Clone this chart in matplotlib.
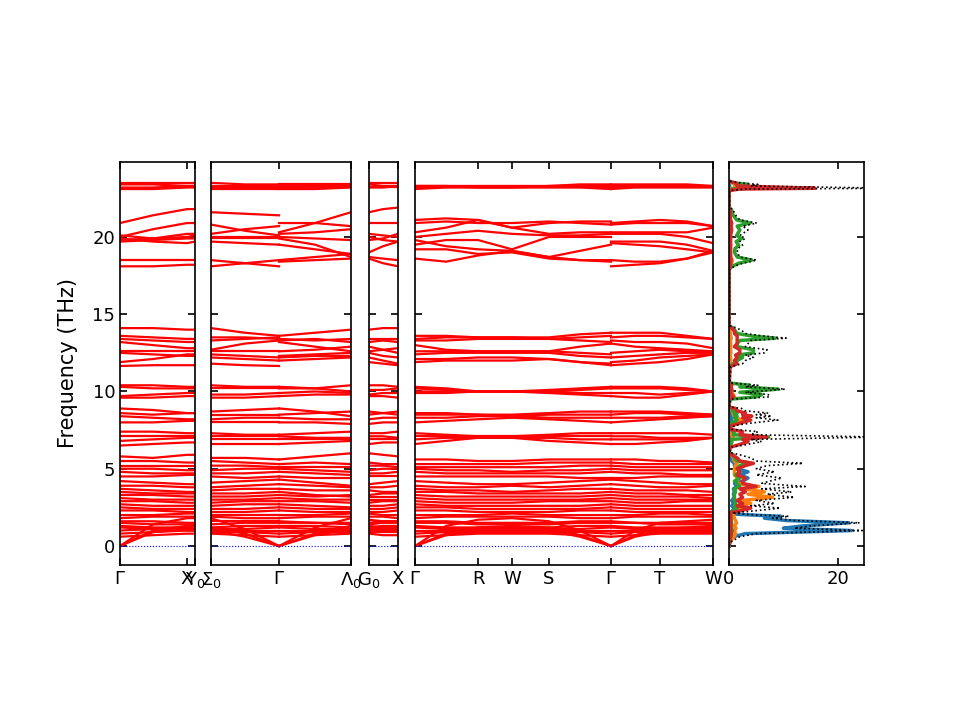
import numpy as np
import matplotlib
matplotlib.use("Agg")
import matplotlib.pyplot as plt

# k-path positions of the points each band is read at
p1_x = [0, 33, 67, 75]
p2a_x = [0, 34, 68]
p2b_x = [68, 104, 140]
p3_x = [0, 14, 29]
p4a_x = [0, 31, 63, 97, 134, 165, 196]
p4b_x = [196, 220, 245, 272, 298]

p1_ticks = [0, 67, 75]
p1_labels = [r"$\Gamma$", "X", r"$\mathrm{Y}_0$"]
p2_ticks = [0, 68, 140]
p2_labels = [r"$\Sigma_0$", r"$\Gamma$", r"$\Lambda_0$"]
p3_ticks = [0, 29]
p3_labels = [r"$\mathrm{G}_0$", "X"]
p4_ticks = [0, 63, 97, 134, 196, 245, 298]
p4_labels = [r"$\Gamma$", "R", "W", "S", r"$\Gamma$", "T", "W"]

# each row: P1(4) | P2a(3) | P2b(3) | P3(3) | P4a(7) | P4b(5)
bands_acoustic = [
    [0, 0.9, 1.1, 1.1, 1.0, 0.6, 0, 0, 0.7, 1.1, 1.1, 1.1, 1.1, 0, 0.7, 1.0, 1.1, 1.0, 0.6, 0, 0, 0.6, 0.9, 1.0, 1.1],
    [0, 1.0, 1.3, 1.3, 1.2, 0.8, 0, 0, 0.8, 1.3, 1.3, 1.2, 1.2, 0, 0.8, 1.2, 1.3, 1.2, 0.7, 0, 0, 0.7, 1.1, 1.2, 1.3],
    [0, 1.4, 1.8, 1.8, 1.8, 1.1, 0, 0, 1.2, 1.8, 1.7, 1.6, 1.6, 0, 1.3, 1.7, 1.8, 1.6, 1.0, 0, 0, 1.0, 1.5, 1.6, 1.7],
]
bands_low = [
    [2.0, 2.0, 2.1, 2.1, 2.0, 2.0, 2.0, 2.0, 2.0, 2.1, 2.1, 2.0, 2.0, 2.0, 2.0, 2.0, 2.1, 2.0, 2.0, 2.0, 2.0, 2.0, 2.1, 2.1, 2.0],
    [1.8, 1.9, 1.9, 1.9, 1.9, 1.8, 1.8, 1.8, 1.9, 1.9, 1.9, 1.9, 1.8, 1.8, 1.9, 1.9, 1.9, 1.9, 1.8, 1.8, 1.8, 1.9, 1.9, 1.9, 1.9],
    [1.6, 1.6, 1.5, 1.5, 1.6, 1.6, 1.6, 1.6, 1.5, 1.5, 1.5, 1.6, 1.6, 1.6, 1.6, 1.5, 1.5, 1.5, 1.6, 1.6, 1.6, 1.5, 1.5, 1.5, 1.5],
    [1.5, 1.4, 1.4, 1.4, 1.4, 1.5, 1.5, 1.5, 1.5, 1.4, 1.4, 1.5, 1.5, 1.5, 1.5, 1.4, 1.4, 1.4, 1.5, 1.5, 1.5, 1.5, 1.4, 1.4, 1.4],
    [1.3, 1.2, 1.2, 1.2, 1.2, 1.3, 1.3, 1.3, 1.3, 1.2, 1.2, 1.3, 1.3, 1.3, 1.2, 1.2, 1.2, 1.2, 1.3, 1.3, 1.3, 1.2, 1.2, 1.2, 1.2],
    [1.2, 1.1, 1.1, 1.1, 1.1, 1.1, 1.2, 1.2, 1.1, 1.1, 1.1, 1.1, 1.1, 1.2, 1.1, 1.1, 1.1, 1.1, 1.1, 1.2, 1.2, 1.1, 1.1, 1.1, 1.1],
    [1.0, 1.1, 1.0, 1.0, 1.0, 1.0, 1.0, 1.0, 1.0, 1.0, 1.0, 1.0, 1.0, 1.0, 1.0, 1.0, 1.0, 1.0, 1.0, 1.0, 1.0, 1.0, 1.0, 1.0, 1.0],
    [0.8, 0.9, 1.0, 1.0, 0.9, 0.9, 0.8, 0.8, 0.9, 0.9, 0.9, 0.9, 0.9, 0.8, 0.9, 0.9, 0.9, 0.9, 0.9, 0.8, 0.8, 0.9, 0.9, 0.9, 0.9],
    [0.6, 0.7, 0.8, 0.8, 0.8, 0.7, 0.6, 0.6, 0.7, 0.8, 0.8, 0.7, 0.7, 0.6, 0.7, 0.8, 0.8, 0.8, 0.7, 0.6, 0.6, 0.7, 0.8, 0.8, 0.8],
]
bands_3thz = [
    [4.2, 4.1, 4.0, 4.0, 4.1, 4.2, 4.3, 4.3, 4.1, 3.9, 4.0, 4.1, 4.2, 4.2, 4.1, 4.0, 4.0, 4.1, 4.2, 4.3, 4.3, 4.2, 4.1, 4.0, 4.0],
    [3.9, 3.9, 3.8, 3.8, 3.8, 3.9, 4.0, 4.0, 3.9, 3.8, 3.8, 3.8, 3.9, 3.9, 3.8, 3.8, 3.9, 3.8, 3.9, 4.0, 4.0, 3.9, 3.8, 3.8, 3.9],
    [3.7, 3.6, 3.5, 3.5, 3.6, 3.7, 3.7, 3.7, 3.6, 3.6, 3.6, 3.5, 3.5, 3.7, 3.6, 3.6, 3.5, 3.6, 3.7, 3.7, 3.7, 3.6, 3.6, 3.6, 3.5],
    [3.5, 3.4, 3.4, 3.4, 3.4, 3.4, 3.5, 3.5, 3.3, 3.2, 3.3, 3.4, 3.4, 3.5, 3.5, 3.4, 3.4, 3.4, 3.4, 3.5, 3.5, 3.4, 3.4, 3.3, 3.3],
    [3.3, 3.3, 3.2, 3.2, 3.2, 3.2, 3.3, 3.3, 3.2, 3.3, 3.2, 3.2, 3.2, 3.3, 3.2, 3.2, 3.2, 3.2, 3.2, 3.3, 3.3, 3.2, 3.2, 3.2, 3.1],
    [3.1, 3.0, 3.0, 3.0, 3.0, 3.0, 3.1, 3.1, 3.0, 3.0, 3.0, 3.0, 3.0, 3.1, 3.0, 3.0, 3.0, 3.0, 3.0, 3.1, 3.1, 3.0, 3.0, 3.0, 3.0],
    [2.9, 2.9, 2.8, 2.8, 2.8, 2.9, 2.9, 2.9, 2.9, 2.8, 2.8, 2.9, 2.9, 2.9, 2.8, 2.8, 2.8, 2.9, 2.9, 2.9, 2.9, 2.8, 2.8, 2.9, 2.9],
    [2.7, 2.6, 2.6, 2.6, 2.6, 2.7, 2.7, 2.7, 2.6, 2.5, 2.6, 2.6, 2.7, 2.7, 2.6, 2.6, 2.6, 2.6, 2.6, 2.7, 2.7, 2.6, 2.6, 2.6, 2.6],
    [2.5, 2.4, 2.4, 2.4, 2.4, 2.4, 2.5, 2.5, 2.4, 2.4, 2.4, 2.4, 2.5, 2.5, 2.5, 2.4, 2.4, 2.4, 2.4, 2.5, 2.5, 2.4, 2.4, 2.4, 2.4],
    [2.3, 2.3, 2.2, 2.2, 2.2, 2.2, 2.3, 2.3, 2.2, 2.2, 2.2, 2.2, 2.3, 2.3, 2.3, 2.2, 2.2, 2.2, 2.3, 2.3, 2.3, 2.2, 2.2, 2.2, 2.2],
]
bands_5thz = [
    [5.8, 5.7, 5.9, 5.9, 5.7, 5.7, 5.6, 5.6, 5.8, 6.0, 6.0, 5.9, 5.8, 5.6, 5.6, 5.5, 5.5, 5.6, 5.6, 5.6, 5.6, 5.6, 5.5, 5.5, 5.4],
    [5.5, 5.5, 5.4, 5.4, 5.5, 5.4, 5.3, 5.3, 5.4, 5.3, 5.4, 5.3, 5.3, 5.3, 5.3, 5.3, 5.3, 5.4, 5.4, 5.4, 5.4, 5.3, 5.3, 5.3, 5.3],
    [5.2, 5.2, 5.2, 5.2, 5.2, 5.2, 5.1, 5.1, 5.1, 5.1, 5.2, 5.2, 5.1, 5.1, 5.1, 5.1, 5.1, 5.1, 5.2, 5.2, 5.2, 5.1, 5.1, 5.1, 5.1],
    [5.0, 5.0, 4.9, 4.9, 4.9, 5.0, 5.0, 5.0, 4.9, 4.8, 4.9, 5.0, 5.0, 5.0, 4.9, 4.9, 4.8, 4.9, 4.9, 5.0, 5.0, 4.9, 4.9, 4.9, 4.9],
    [4.8, 4.7, 4.7, 4.7, 4.7, 4.7, 4.8, 4.8, 4.7, 4.6, 4.7, 4.7, 4.8, 4.8, 4.7, 4.7, 4.7, 4.7, 4.7, 4.8, 4.8, 4.7, 4.7, 4.6, 4.6],
    [4.5, 4.5, 4.6, 4.6, 4.5, 4.4, 4.5, 4.5, 4.4, 4.4, 4.5, 4.5, 4.5, 4.5, 4.5, 4.5, 4.5, 4.5, 4.4, 4.4, 4.4, 4.4, 4.5, 4.5, 4.5],
]
bands_7thz = [
    [7.4, 7.4, 7.3, 7.3, 7.3, 7.2, 7.2, 7.2, 7.3, 7.4, 7.3, 7.3, 7.4, 7.3, 7.2, 7.1, 7.1, 7.2, 7.3, 7.3, 7.3, 7.3, 7.3, 7.3, 7.2],
    [7.1, 7.1, 7.1, 7.1, 7.1, 7.1, 7.1, 7.1, 7.0, 7.0, 7.1, 7.1, 7.0, 7.1, 7.1, 7.1, 7.1, 7.1, 7.1, 7.1, 7.1, 7.1, 7.0, 7.0, 7.0],
    [6.8, 6.9, 7.0, 7.0, 6.9, 6.9, 6.9, 6.9, 6.9, 6.9, 6.9, 6.9, 6.9, 6.9, 7.0, 7.0, 7.0, 7.0, 6.9, 6.9, 6.9, 6.9, 6.9, 6.9, 7.0],
    [6.5, 6.6, 6.7, 6.7, 6.6, 6.6, 6.6, 6.6, 6.7, 6.8, 6.6, 6.7, 6.7, 6.6, 6.8, 7.0, 7.0, 6.8, 6.7, 6.6, 6.6, 6.6, 6.7, 6.8, 7.0],
]
bands_8thz = [
    [8.9, 8.8, 8.6, 8.6, 8.7, 8.8, 8.9, 8.9, 8.7, 8.4, 8.5, 8.6, 8.7, 8.6, 8.6, 8.5, 8.5, 8.6, 8.7, 8.7, 8.7, 8.7, 8.7, 8.6, 8.5],
    [8.6, 8.5, 8.6, 8.6, 8.5, 8.5, 8.5, 8.5, 8.6, 8.7, 8.7, 8.6, 8.5, 8.5, 8.5, 8.5, 8.4, 8.5, 8.5, 8.5, 8.5, 8.6, 8.6, 8.5, 8.5],
    [8.4, 8.3, 8.2, 8.2, 8.2, 8.3, 8.3, 8.3, 8.2, 8.2, 8.2, 8.3, 8.3, 8.3, 8.3, 8.4, 8.4, 8.3, 8.3, 8.3, 8.3, 8.3, 8.3, 8.4, 8.4],
    [8.0, 8.0, 8.1, 8.1, 8.0, 8.0, 8.0, 8.0, 8.0, 7.9, 7.9, 8.0, 8.0, 8.0, 8.1, 8.2, 8.3, 8.2, 8.1, 8.0, 8.0, 8.1, 8.2, 8.3, 8.4],
]
bands_10thz = [
    [10.4, 10.4, 10.3, 10.3, 10.4, 10.3, 10.3, 10.3, 10.2, 10.4, 10.4, 10.4, 10.3, 10.3, 10.2, 10.0, 10.0, 10.1, 10.2, 10.3, 10.3, 10.3, 10.3, 10.2, 10.0],
    [10.3, 10.2, 10.2, 10.2, 10.2, 10.2, 10.2, 10.2, 10.2, 10.0, 10.1, 10.1, 10.2, 10.2, 10.1, 10.0, 10.0, 10.0, 10.1, 10.2, 10.2, 10.2, 10.2, 10.1, 10.0],
    [9.7, 9.8, 9.9, 9.9, 9.8, 9.8, 9.9, 9.9, 10.0, 9.9, 9.8, 9.9, 9.9, 10.0, 10.0, 10.0, 10.0, 10.0, 9.9, 9.9, 9.9, 9.9, 9.8, 9.9, 10.0],
    [9.6, 9.6, 9.7, 9.7, 9.6, 9.6, 9.7, 9.7, 9.8, 9.8, 9.7, 9.7, 9.6, 9.9, 9.9, 10.0, 10.0, 9.9, 9.8, 9.7, 9.7, 9.6, 9.6, 9.8, 10.0],
]
bands_13thz = [
    [14.1, 14.1, 14.0, 14.0, 14.1, 13.8, 13.6, 13.6, 13.8, 14.0, 14.0, 14.1, 14.1, 13.6, 13.6, 13.5, 13.5, 13.5, 13.7, 13.8, 13.8, 13.8, 13.8, 13.6, 13.4],
    [13.6, 13.5, 13.4, 13.4, 13.5, 13.5, 13.4, 13.4, 13.3, 13.4, 13.4, 13.4, 13.4, 13.4, 13.5, 13.5, 13.5, 13.4, 13.5, 13.6, 13.5, 13.6, 13.6, 13.5, 13.4],
    [13.4, 13.3, 13.2, 13.2, 13.3, 13.4, 13.5, 13.3, 13.4, 13.2, 13.2, 13.3, 13.2, 13.3, 13.3, 13.4, 13.4, 13.4, 13.3, 13.2, 13.3, 13.2, 13.2, 13.1, 12.8],
    [13.2, 13.0, 12.8, 12.8, 12.7, 13.1, 13.3, 13.2, 12.9, 12.6, 12.6, 12.7, 12.8, 13.0, 12.7, 12.6, 12.6, 12.6, 12.9, 13.1, 13.1, 12.9, 12.8, 12.7, 12.6],
    [12.6, 12.6, 12.6, 12.6, 12.6, 12.6, 12.6, 12.6, 12.7, 12.9, 12.9, 12.7, 12.5, 12.6, 12.6, 12.6, 12.6, 12.6, 12.5, 12.4, 12.5, 12.6, 12.7, 12.6, 12.6],
    [12.5, 12.4, 12.3, 12.3, 12.4, 12.3, 12.2, 12.3, 12.4, 12.5, 12.5, 12.3, 12.2, 12.4, 12.5, 12.5, 12.5, 12.5, 12.3, 12.2, 12.2, 12.3, 12.4, 12.5, 12.5],
    [11.9, 12.1, 12.4, 12.4, 12.2, 12.1, 12.0, 12.2, 12.3, 12.3, 12.2, 12.0, 11.8, 12.1, 12.1, 12.2, 12.2, 12.1, 11.9, 11.8, 11.9, 12.0, 12.2, 12.3, 12.4],
    [11.65, 11.7, 11.7, 11.7, 11.8, 11.7, 11.65, 12.0, 12.1, 12.2, 11.9, 11.8, 11.7, 11.9, 12.0, 12.0, 12.0, 12.1, 11.9, 11.7, 11.7, 11.8, 11.9, 12.1, 12.4],
]
bands_20thz = [
    [20.9, 21.4, 21.8, 21.8, 21.6, 21.5, 21.4, 20.9, 20.9, 20.7, 21.6, 21.8, 21.9, 21.1, 21.2, 21.1, 20.6, 20.9, 21.0, 21.0, 20.9, 21.0, 21.1, 21.0, 20.7],
    [20.0, 20.5, 20.9, 20.9, 20.8, 20.4, 20.1, 20.3, 20.9, 21.6, 20.9, 20.9, 20.9, 20.9, 21.0, 20.9, 20.9, 21.0, 20.9, 20.8, 20.8, 20.9, 20.9, 20.9, 20.7],
    [20.1, 19.9, 20.0, 20.1, 20.2, 20.5, 20.7, 20.2, 20.3, 20.5, 20.2, 20.1, 20.0, 20.3, 20.6, 21.1, 20.6, 20.2, 20.3, 20.3, 20.3, 20.3, 20.3, 20.3, 20.6],
    [19.9, 19.7, 19.6, 19.7, 20.0, 20.0, 20.0, 20.0, 19.9, 19.8, 20.0, 19.8, 19.7, 20.0, 20.2, 20.4, 20.2, 20.1, 20.1, 20.2, 20.2, 20.2, 20.2, 20.0, 19.6],
    [19.8, 19.9, 20.2, 20.2, 19.9, 19.9, 19.9, 19.9, 19.5, 18.7, 19.8, 19.9, 20.2, 19.5, 19.8, 19.8, 19.2, 20.0, 20.0, 20.0, 19.7, 19.7, 19.7, 19.5, 19.1],
    [19.7, 19.8, 19.9, 19.9, 19.7, 19.6, 19.5, 19.5, 19.2, 18.9, 19.0, 19.4, 19.7, 19.8, 19.4, 19.2, 19.1, 18.7, 19.1, 19.5, 19.6, 19.5, 19.4, 19.2, 19.0],
    [18.5, 18.5, 18.5, 18.5, 18.5, 18.3, 18.1, 18.5, 18.7, 18.9, 18.7, 18.6, 18.5, 19.2, 19.2, 18.9, 19.0, 18.6, 18.5, 18.4, 18.5, 18.4, 18.4, 18.6, 19.0],
    [18.1, 18.1, 18.2, 18.2, 18.1, 18.3, 18.5, 18.4, 18.5, 18.6, 18.6, 18.3, 18.1, 18.6, 18.4, 18.8, 19.1, 18.7, 18.5, 18.5, 18.1, 18.2, 18.3, 18.6, 19.1],
]
bands_23thz = [
    [23.5, 23.5, 23.5, 23.5, 23.5, 23.4, 23.4, 23.4, 23.4, 23.4, 23.5, 23.5, 23.5, 23.3, 23.3, 23.3, 23.3, 23.3, 23.4, 23.4, 23.4, 23.4, 23.4, 23.4, 23.3],
    [23.4, 23.4, 23.3, 23.3, 23.3, 23.3, 23.3, 23.3, 23.3, 23.3, 23.4, 23.3, 23.3, 23.3, 23.3, 23.2, 23.2, 23.3, 23.3, 23.3, 23.3, 23.3, 23.3, 23.3, 23.3],
    [23.2, 23.2, 23.3, 23.3, 23.2, 23.2, 23.2, 23.2, 23.2, 23.2, 23.2, 23.2, 23.3, 23.2, 23.2, 23.2, 23.2, 23.2, 23.2, 23.2, 23.2, 23.2, 23.2, 23.2, 23.2],
    [23.1, 23.1, 23.2, 23.2, 23.1, 23.1, 23.1, 23.1, 23.1, 23.2, 23.2, 23.2, 23.2, 23.1, 23.2, 23.2, 23.2, 23.2, 23.2, 23.1, 23.1, 23.2, 23.2, 23.2, 23.2],
]

# density of states: frequency grid, total and four partial contributions
dos_freq = [0.0, 0.3, 0.6, 0.8, 1.0, 1.15, 1.3, 1.5, 1.65, 1.8, 1.92, 2.05, 2.15,
            2.25, 2.45, 2.6, 2.75, 2.95, 3.15, 3.35, 3.5, 3.7, 3.85, 4.05, 4.2, 4.4,
            4.6, 4.8, 5.0, 5.2, 5.35, 5.5, 5.7, 5.9, 6.05, 6.4, 6.55, 6.75, 6.9, 7.05,
            7.2, 7.4, 7.55, 7.8, 7.95, 8.15, 8.3, 8.4, 8.5, 8.6, 8.75, 8.9, 9.0,
            9.5, 9.65, 9.8, 9.95, 10.15, 10.3, 10.4, 10.55, 11.6, 11.8, 12.0, 12.2,
            12.35, 12.5, 12.7, 12.9, 13.1, 13.3, 13.45, 13.6, 13.75, 13.9, 14.1, 14.25,
            17.9, 18.1, 18.3, 18.5, 18.7, 19.0, 19.25, 19.45, 19.7, 19.9, 20.1, 20.45,
            20.7, 20.9, 21.1, 21.5, 21.75, 21.9, 23.0, 23.1, 23.15, 23.3, 23.4, 23.5, 23.6]
dos_total = [0, 0.5, 2.0, 5.0, 24.5, 12.0, 15.0, 24.0, 12.0, 8.0, 11.0, 3.0, 0.6,
             4.0, 9.4, 4.0, 8.4, 5.0, 12.0, 7.0, 11.5, 6.0, 14.0, 6.0, 7.5, 9.7,
             5.0, 8.4, 5.0, 7.0, 13.6, 5.0, 4.0, 2.0, 0.1, 0.5, 3.0, 6.0, 4.0, 28.0,
             4.0, 5.3, 0.5, 1.0, 4.0, 9.0, 5.0, 7.8, 5.0, 7.2, 3.0, 2.3, 0.1,
             0.3, 7.5, 7.2, 3.0, 10.3, 3.0, 5.3, 0.2, 0.3, 2.5, 3.0, 4.5,
             3.0, 6.5, 7.0, 3.0, 3.5, 4.0, 10.5, 6.0, 3.0, 2.5, 1.5, 0.1,
             0.1, 1.0, 2.5, 5.1, 2.0, 1.5, 1.6, 2.5, 2.0, 3.0, 2.0, 3.5,
             2.5, 5.1, 2.0, 1.0, 0.8, 0.1, 0.1, 3.0, 30.0, 4.0, 5.3, 2.0, 0.1]
dos_blue = [0, 0.3, 0.8, 3.0, 22.5, 10.0, 13.5, 22.0, 10.5, 6.5, 9.5, 1.5, 0.2,
            0.5, 1.0, 0.5, 0.8, 0.5, 1.0, 0.8, 1.0, 0.8, 1.5, 1.0, 2.5, 3.5,
            2.0, 3.5, 1.5, 1.0, 1.0, 0.5, 0.3, 0.2, 0, 0, 0.2, 0.3, 0.2, 0.5,
            0.2, 0.3, 0, 0, 0.2, 0.5, 0.3, 0.5, 0.3, 0.4, 0.2, 0.1, 0,
            0, 0.3, 0.3, 0.2, 0.3, 0.2, 0.2, 0, 0, 0.2, 0.2, 0.2,
            0.2, 0.3, 0.2, 0.2, 0.2, 0.2, 0.3, 0.2, 0.2, 0.1, 0.1, 0,
            0, 0, 0, 0.1, 0, 0, 0, 0, 0, 0, 0, 0,
            0, 0, 0, 0, 0, 0, 0, 0, 0.2, 0.1, 0.1, 0, 0]
dos_orange = [0, 0.2, 0.9, 1.2, 1.0, 1.3, 1.0, 1.4, 1.2, 1.0, 0.9, 0.8, 0.3,
              1.0, 2.5, 1.5, 4.0, 2.5, 8.0, 3.5, 6.5, 2.5, 5.5, 1.5, 1.5, 1.5,
              1.0, 1.0, 1.0, 1.2, 1.5, 1.0, 0.8, 0.5, 0, 0.1, 0.4, 0.5, 0.4, 0.8,
              0.4, 0.5, 0.1, 0.3, 1.0, 2.5, 1.0, 1.0, 0.8, 0.8, 0.5, 0.3, 0,
              0.1, 1.0, 0.8, 0.5, 0.5, 0.3, 0.4, 0, 0, 0.3, 0.3, 0.3,
              0.2, 0.3, 0.3, 0.3, 0.3, 0.3, 0.4, 0.3, 0.2, 0.2, 0.1, 0,
              0, 0.2, 0.5, 0.6, 0.3, 0.2, 0.2, 0.3, 0.2, 0.2, 0.2, 0.3,
              0.2, 0.3, 0.2, 0.1, 0.1, 0, 0, 0.3, 1.0, 1.0, 2.0, 0.5, 0]
dos_green = [0, 0.1, 0.3, 0.5, 0.6, 0.5, 0.4, 0.5, 0.4, 0.4, 0.3, 0.3, 0.1,
             0.6, 1.5, 1.0, 1.2, 1.0, 1.0, 1.0, 1.2, 1.0, 2.0, 1.5, 1.0, 2.0,
             1.2, 2.0, 1.5, 2.0, 4.0, 1.5, 1.0, 0.8, 0, 0.1, 0.3, 0.5, 0.5, 7.3,
             0.8, 1.0, 0.1, 0.2, 0.5, 1.5, 1.0, 1.5, 1.0, 1.5, 0.6, 0.5, 0,
             0.2, 5.0, 6.0, 2.0, 9.0, 2.0, 3.8, 0.1, 0.1, 0.8, 1.5, 2.5,
             1.5, 4.5, 4.5, 1.5, 1.5, 2.0, 8.5, 4.0, 1.5, 1.2, 0.8, 0,
             0, 0.6, 1.8, 4.2, 1.5, 1.0, 1.1, 1.8, 1.3, 2.3, 1.4, 2.0,
             1.5, 3.9, 1.4, 0.6, 0.5, 0, 0, 0.5, 3.5, 1.5, 3.5, 1.0, 0]
dos_red = [0, 0.1, 0.3, 0.4, 0.4, 0.3, 0.3, 0.3, 0.3, 0.3, 0.3, 0.3, 0.1,
           1.8, 4.0, 1.5, 2.5, 1.5, 2.5, 2.0, 3.0, 2.0, 5.0, 2.5, 2.5, 3.0,
           1.5, 2.0, 1.5, 3.0, 4.5, 2.0, 1.5, 0.5, 0, 0.3, 1.8, 3.5, 2.5, 7.0,
           2.0, 2.5, 0.2, 0.5, 2.0, 4.0, 2.5, 4.2, 2.5, 3.0, 1.5, 1.2, 0,
           0, 0.8, 0.5, 0.3, 0.5, 0.3, 0.5, 0, 0.2, 1.5, 1.0, 1.5,
           1.2, 2.0, 2.0, 1.0, 1.5, 1.5, 1.5, 1.5, 1.0, 1.0, 0.5, 0,
           0, 0.2, 0.3, 0.4, 0.3, 0.3, 0.3, 0.3, 0.3, 0.3, 0.3, 0.5,
           0.4, 0.5, 0.3, 0.2, 0.2, 0, 0, 2.0, 15.8, 1.5, 1.5, 1.2, 0]

plt.rcParams["font.size"] = 13
plt.rcParams["axes.linewidth"] = 1.2

bands = np.array(bands_acoustic + bands_low + bands_3thz + bands_5thz + bands_7thz
                 + bands_8thz + bands_10thz + bands_13thz + bands_20thz + bands_23thz)

fig = plt.figure(figsize=(9.6, 7.2), dpi=100)
bottom, height = 155 / 720, 403 / 720
ylim = (-1.23, 24.85)


def style(ax, ticks, labels, left_labels=False):
    ax.set_xticks(ticks)
    ax.set_xticklabels(labels)
    ax.set_yticks([0, 5, 10, 15, 20])
    if not left_labels:
        ax.set_yticklabels([])
    ax.tick_params(direction="in", top=True, right=True, length=5, width=1.2)
    ax.set_ylim(*ylim)


panels = [
    (120, 75, [(p1_x, 0, 4)], p1_ticks, p1_labels),
    (211, 140, [(p2a_x, 4, 7), (p2b_x, 7, 10)], p2_ticks, p2_labels),
    (369, 29, [(p3_x, 10, 13)], p3_ticks, p3_labels),
    (415, 298, [(p4a_x, 13, 20), (p4b_x, 20, 25)], p4_ticks, p4_labels),
]

for i, (left, width, segs, ticks, labels) in enumerate(panels):
    ax = fig.add_axes([left / 960, bottom, width / 960, height])
    for xs, c0, c1 in segs:
        for band in bands:
            ax.plot(xs, band[c0:c1], color="r", lw=1.6)
    ax.axhline(0, color="b", ls=":", lw=0.8)
    ax.set_xlim(ticks[0], ticks[-1])
    style(ax, ticks, labels, left_labels=(i == 0))
    if i == 0:
        ax.set_ylabel("Frequency (THz)", fontsize=15, labelpad=10)

ax_dos = fig.add_axes([729 / 960, bottom, 135 / 960, height])
for vals, col in zip([dos_blue, dos_orange, dos_green, dos_red],
                     ["tab:blue", "tab:orange", "tab:green", "tab:red"]):
    ax_dos.plot(vals, dos_freq, color=col, lw=2.5)
ax_dos.plot(dos_total, dos_freq, color="k", ls=":", lw=1.2)
ax_dos.set_xlim(0, 24.8)
style(ax_dos, [0, 20], ["0", "20"])

fig.savefig("out.png", dpi=100)
